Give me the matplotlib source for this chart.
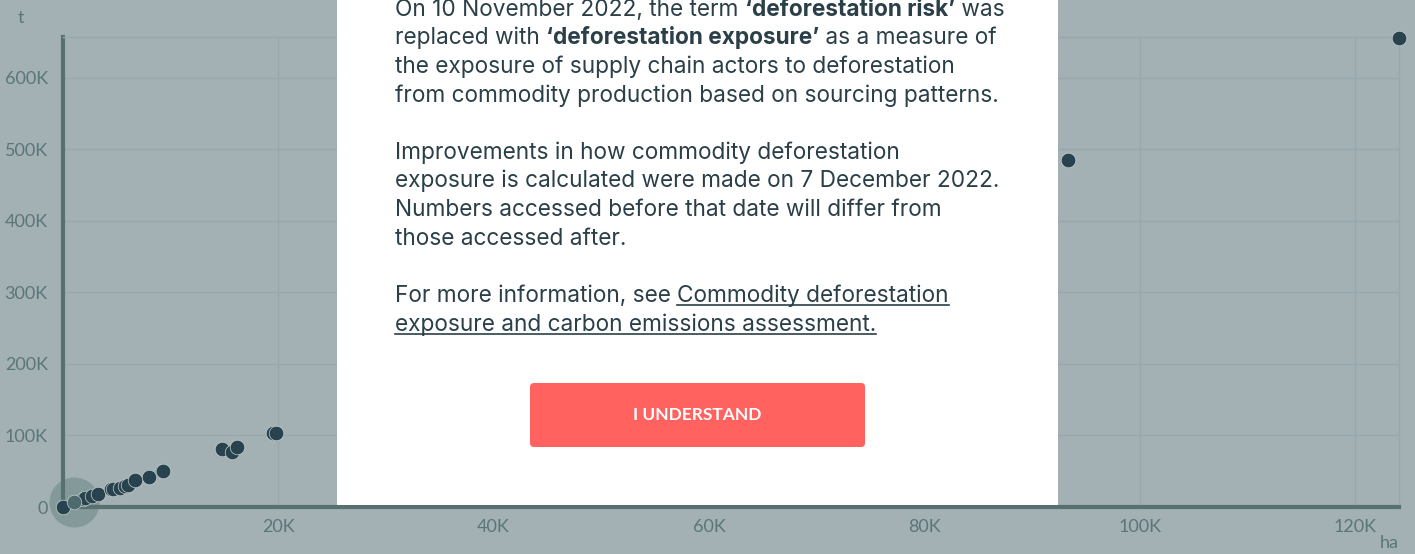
import matplotlib.pyplot as plt
from matplotlib.patches import FancyBboxPatch
from matplotlib.ticker import FuncFormatter

# deforestation exposure (ha) vs emissions (t)
ha = [0, 1050, 1900, 2040, 2670, 3280, 4450, 4620, 5300, 5760, 6070, 6690,
      7990, 9200, 9320, 14740, 15670, 16190, 19500, 19800, 93400, 124100]
t = [0, 7400, 11000, 12000, 15400, 18200, 24500, 24800, 26200, 29400, 30800,
     37800, 41500, 50800, 50300, 80700, 77300, 84300, 103000, 103000, 485000, 655000]
highlight = 1

x_ticks = [20000, 40000, 60000, 80000, 100000, 120000]
y_ticks = [0, 100000, 200000, 300000, 400000, 500000, 600000]

bg = "#a3b1b5"
grid_c = "#97a7ab"
axis_c = "#587070"
label_c = "#5b7677"
dot_c = "#28434d"
text_c = "#2b3f48"

W, H = 1415, 554
fig = plt.figure(figsize=(W / 100, H / 100), dpi=100, facecolor=bg)
ax = fig.add_axes([63 / W, 47 / H, 1336 / W, 470 / H])
ax.set_facecolor(bg)

ax.set_xlim(0, 124100)
ax.set_ylim(0, 657000)
ax.set_xticks(x_ticks)
ax.set_yticks(y_ticks)
fmt = FuncFormatter(lambda v, p: "0" if v == 0 else f"{int(v / 1000)}K")
ax.xaxis.set_major_formatter(fmt)
ax.yaxis.set_major_formatter(fmt)
ax.tick_params(length=0, labelsize=13, labelcolor=label_c)
ax.tick_params(axis="y", pad=11)
ax.tick_params(axis="x", pad=9)
for lab in ax.get_xticklabels() + ax.get_yticklabels():
    lab.set_family("Lato")
ax.grid(True, color=grid_c, linewidth=1)
ax.set_axisbelow(True)
for s in ["top", "right"]:
    ax.spines[s].set_color(grid_c)
    ax.spines[s].set_linewidth(1)
for s in ["left", "bottom"]:
    ax.spines[s].set_color(axis_c)
    ax.spines[s].set_linewidth(3)

others = [i for i in range(len(ha)) if i != highlight]
ax.scatter([ha[i] for i in others], [t[i] for i in others], s=110, color=dot_c,
           edgecolor="#c3ced1", linewidth=0.5, zorder=3, clip_on=False)
ax.scatter([ha[highlight]], [t[highlight]], s=1300, color="#7d9494", alpha=0.8,
           linewidth=0, zorder=2, clip_on=False)
ax.scatter([ha[highlight]], [t[highlight]], s=110, color="#4f6a6c",
           edgecolor="#c3ced1", linewidth=0.5, zorder=4, clip_on=False)

fig.text(21 / W, 1 - 18 / H, "t", color=label_c, fontsize=13, family="Lato",
         ha="center", va="center")
fig.text(1389 / W, 1 - 543 / H, "ha", color=label_c, fontsize=13, family="Lato",
         ha="center", va="center")

# modal overlay
mx0, mx1, my1 = 337, 1058, 505
m = fig.add_axes([mx0 / W, (H - my1) / H, (mx1 - mx0) / W, my1 / H])
m.set_xlim(0, mx1 - mx0)
m.set_ylim(my1, 0)
m.set_facecolor("white")
for s in m.spines.values():
    s.set_visible(False)
m.set_xticks([])
m.set_yticks([])

fs = 16.3
fam = "Inter"
left = 395 - mx0


def line(y, parts):
    prev = None
    out = []
    for txt, bold in parts:
        w = "bold" if bold else "normal"
        if prev is None:
            tx = m.text(left, y, txt, fontsize=fs, family=fam, weight=w, color=text_c,
                        va="center", ha="left")
        else:
            tx = m.annotate(txt, xy=(1, 0), xycoords=prev, fontsize=fs, family=fam,
                            weight=w, color=text_c, va="bottom", ha="left")
        prev = tx
        out.append(tx)
    return out


line(10, [("On 10 November 2022, the term ", False), ("\u2018deforestation risk\u2019", True), (" was", False)])
line(38, [("replaced with ", False), ("\u2018deforestation exposure\u2019", True), (" as a measure of", False)])
line(67, [("the exposure of supply chain actors to deforestation", False)])
line(96, [("from commodity production based on sourcing patterns.", False)])
line(153, [("Improvements in how commodity deforestation", False)])
line(181, [("exposure is calculated were made on 7 December 2022.", False)])
line(210, [("Numbers accessed before that date will differ from", False)])
line(239, [("those accessed after.", False)])
link1 = line(296, [("For more information, see ", False), ("Commodity deforestation", False)])[1]
link2 = line(325, [("exposure and carbon emissions assessment.", False)])[0]

btn = FancyBboxPatch((530 - mx0, 383), 335, 64, boxstyle="round,pad=0,rounding_size=4",
                     facecolor="#ff625f", edgecolor="none")
m.add_patch(btn)
m.text((530 + 865) / 2 - mx0, 415, "I UNDERSTAND", color="white", fontsize=12.5,
       family="Lato", weight="bold", ha="center", va="center")

# underline the link
fig.canvas.draw()
r = fig.canvas.get_renderer()
inv = m.transData.inverted()
for tx in (link1, link2):
    bb = tx.get_window_extent(r)
    (x0, y0), (x1, _) = inv.transform([[bb.x0, bb.y0], [bb.x1, bb.y1]])
    m.plot([x0, x1], [y0 - 2, y0 - 2], color=text_c, linewidth=1.2)

fig.savefig("out.png", dpi=100, facecolor=bg)
